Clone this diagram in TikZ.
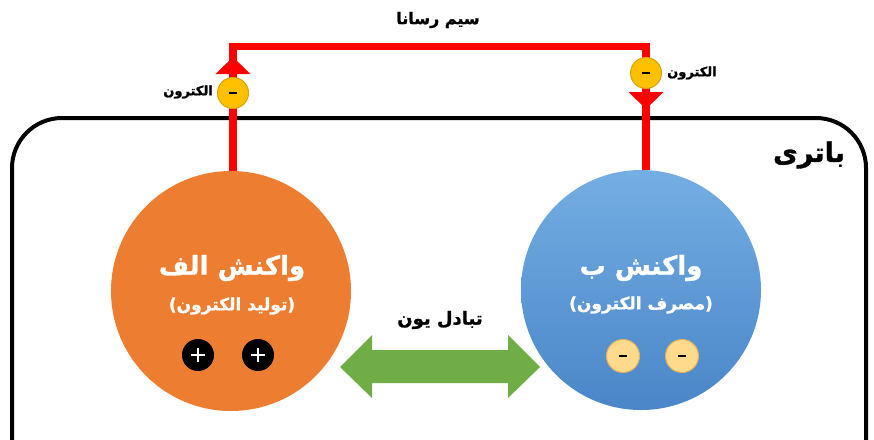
\documentclass[tikz,border=0pt]{standalone}
\usepackage{fontspec}
\setmainfont{DejaVu Sans}
\newfontfamily\fa[Script=Arabic, FakeBold=1.2]{DejaVu Sans Bold}
\TeXXeTstate=1
\definecolor{wirered}{HTML}{FF0000}
\definecolor{orangeA}{HTML}{ED7D31}
\definecolor{blueTop}{HTML}{74AEE3}
\definecolor{blueBot}{HTML}{4A86C8}
\definecolor{eyellow}{HTML}{FFC000}
\definecolor{eyedge}{HTML}{D9A200}
\definecolor{peach}{HTML}{FFD98C}
\definecolor{peachedge}{HTML}{E8B25A}
\definecolor{greenA}{HTML}{70AD47}
\tikzset{
  wire/.style={draw=wirered, line width=7.5pt},
  bigcirc/.style={circle, minimum size=240pt, inner sep=0pt},
  electron/.style={circle, fill=eyellow, draw=eyedge, line width=1pt, minimum size=31pt, inner sep=0pt},
  negion/.style={circle, fill=peach, draw=peachedge, line width=1pt, minimum size=33pt, inner sep=0pt},
  posion/.style={circle, fill=black, minimum size=32pt, inner sep=0pt},
  lbl/.style={font=\fa, inner sep=0pt},
}
\begin{document}
\begin{tikzpicture}[x=1pt,y=-1pt]
\useasboundingbox (0,0) rectangle (874,439);
\begin{scope}
\clip (0,0) rectangle (874,439);
\draw[line width=4pt, rounded corners=50pt] (12,520) rectangle (866,118);
\end{scope}
% circles (nodes)
\node[bigcirc, fill=orangeA] (A) at (231,291) {};
\node[bigcirc, top color=blueTop, bottom color=blueBot] (B) at (641,290) {};
% wire
\coordinate (wl) at (233,46.5);
\coordinate (wr) at (646,46.5);
\draw[wire] (wl |- A.north) -- (wl) -- (wr) -- (wr |- B.north);
\fill[wirered] (233,57) -- (250.5,74) -- (215.5,74) -- cycle;
\fill[wirered] (646,109) -- (663.5,92) -- (628.5,92) -- cycle;
% electrons on wire
\node[electron] (e1) at (233,93) {};
\node[electron] (e2) at (646,73) {};
\draw[line width=2.5pt] ([xshift=-4pt]e1.center) -- ([xshift=4pt]e1.center);
\draw[line width=2.5pt] ([xshift=-4pt]e2.center) -- ([xshift=4pt]e2.center);
\node[lbl, font=\fa\fontsize{13}{15}\selectfont, anchor=east] (l1) at (213,92) {\beginR الکترون\endR};
\node[lbl, font=\fa\fontsize{13}{15}\selectfont, anchor=west] (l2) at (667,73) {\beginR الکترون\endR};
\node[lbl, font=\fa\fontsize{16}{18}\selectfont] (wirelbl) at (438,20) {\beginR سیم رسانا\endR};
% battery label
\node[lbl, font=\fa\fontsize{27}{30}\selectfont] (bat) at (809,155) {\beginR باتری\endR};
% reaction texts
\node[lbl, text=white, font=\fa\fontsize{26}{30}\selectfont] (ta1) at (232,268) {\beginR واکنش الف\endR};
\node[lbl, text=white, font=\fa\fontsize{17}{20}\selectfont] (ta2) at (232,306) {\beginR (تولید الکترون)\endR};
\node[lbl, text=white, font=\fa\fontsize{26}{30}\selectfont] (tb1) at (641,268) {\beginR واکنش ب\endR};
\node[lbl, text=white, font=\fa\fontsize{17}{20}\selectfont] (tb2) at (641,305) {\beginR (مصرف الکترون)\endR};
% ions
\node[posion] (p1) at (198,355) {};
\node[posion] (p2) at (258,355) {};
\foreach \p in {p1,p2}{
  \draw[white, line width=2.5pt] ([xshift=-7pt]\p.center) -- ([xshift=7pt]\p.center);
  \draw[white, line width=2.5pt] ([yshift=-7pt]\p.center) -- ([yshift=7pt]\p.center);
}
\node[negion] (n1) at (623,356) {};
\node[negion] (n2) at (682,356) {};
\foreach \p in {n1,n2}{
  \draw[line width=2.5pt] ([xshift=-4pt]\p.center) -- ([xshift=4pt]\p.center);
}
% ion exchange arrow
\fill[greenA] (340,367) -- (372,335) -- (372,350) -- (508,350) -- (508,335) -- (540,367)
  -- (508,398) -- (508,383) -- (372,383) -- (372,398) -- cycle;
\node[lbl, font=\fa\fontsize{18}{20}\selectfont] (ion) at (440,320) {\beginR تبادل یون\endR};
\end{tikzpicture}
\end{document}
